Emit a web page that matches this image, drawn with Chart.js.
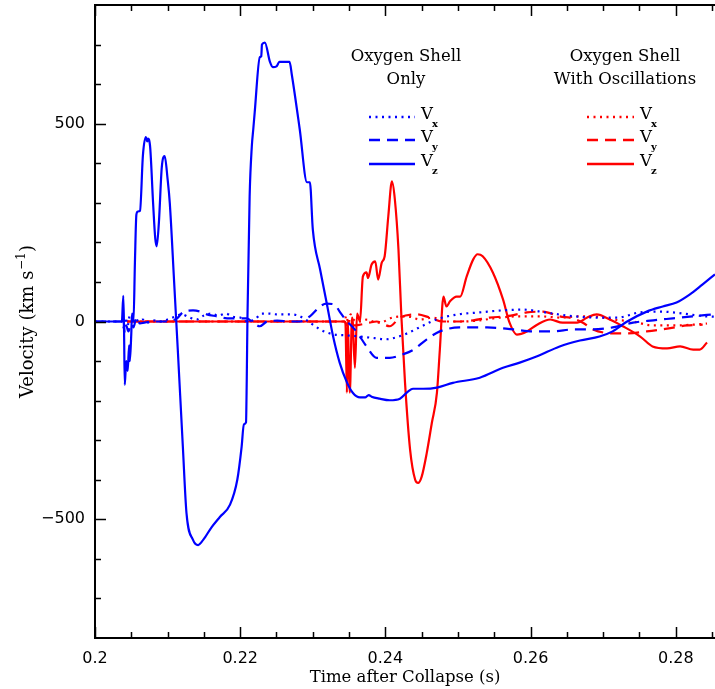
<!DOCTYPE html>
<html>
<head>
<meta charset="utf-8">
<script src="https://cdn.jsdelivr.net/npm/chart.js@4.4.0/dist/chart.umd.min.js"></script>
<style>
  html, body { margin: 0; padding: 0; background: #fff; }
  #c { display: block; }
</style>
</head>
<body>
<canvas id="c" width="715" height="689"></canvas>
<script>
// time after collapse (s) and velocity (km/s)

// oxygen shell only (blue)
const tOnlyVx = [0.2000,0.2037,0.2039,0.2042,0.2045,0.2048,0.2052,0.2056,0.2060,0.2066,0.2072,0.2080,0.2090,0.2100,0.2110,0.2120,0.2130,0.2140,0.2150,0.2160,0.2170,0.2180,0.2190,0.2200,0.2210,0.2220,0.2230,0.2240,0.2250,0.2260,0.2270,0.2280,0.2290,0.2300,0.2310,0.2320,0.2330,0.2345,0.2365,0.2385,0.2400,0.2415,0.2430,0.2450,0.2470,0.2500,0.2530,0.2560,0.2590,0.2620,0.2650,0.2690,0.2720,0.2750,0.2780,0.2810,0.2840,0.2854];
const vOnlyVx = [0,0,-15,10,-10,15,5,8,0,5,-3,3,0,5,12,18,10,5,15,20,15,20,12,10,0,5,20,20,18,18,18,15,5,-8,-20,-28,-33,-35,-38,-42,-45,-40,-30,-12,5,18,23,28,30,23,15,10,10,23,25,20,13,12];

const tOnlyVy = [0.2000,0.2037,0.2039,0.2041,0.2043,0.2046,0.2050,0.2053,0.2057,0.2062,0.2068,0.2080,0.2095,0.2107,0.2113,0.2121,0.2135,0.2145,0.2154,0.2168,0.2182,0.2199,0.2209,0.2218,0.2227,0.2237,0.2251,0.2269,0.2282,0.2296,0.2310,0.2319,0.2330,0.2337,0.2345,0.2360,0.2374,0.2388,0.2406,0.2424,0.2438,0.2457,0.2475,0.2502,0.2540,0.2576,0.2604,0.2631,0.2659,0.2686,0.2713,0.2741,0.2769,0.2796,0.2823,0.2851];
const vOnlyVy = [0,0,10,-30,-10,-25,-5,-15,10,-5,-3,0,0,3,8,23,28,25,18,13,8,8,8,-3,-12,0,2,0,0,13,38,45,43,25,5,-25,-63,-92,-92,-83,-72,-45,-25,-15,-15,-20,-25,-25,-20,-20,-15,-3,3,8,13,18];

const tOnlyVz = [0.2000,0.2037,0.2039,0.2040,0.2041,0.2043,0.2045,0.2047,0.2048,0.2050,0.2051,0.2053,0.2055,0.2057,0.2059,0.2062,0.2066,0.2070,0.2072,0.2073,0.2076,0.2080,0.2083,0.2085,0.2088,0.2092,0.2096,0.2100,0.2103,0.2109,0.2114,0.2121,0.2126,0.2135,0.2142,0.2149,0.2161,0.2172,0.2186,0.2196,0.2202,0.2205,0.2208,0.2209,0.2210,0.2213,0.2216,0.2218,0.2220,0.2227,0.2229,0.2230,0.2234,0.2241,0.2245,0.2250,0.2254,0.2268,0.2271,0.2282,0.2292,0.2296,0.2300,0.2310,0.2319,0.2328,0.2337,0.2347,0.2355,0.2365,0.2372,0.2377,0.2381,0.2392,0.2406,0.2420,0.2431,0.2438,0.2452,0.2471,0.2493,0.2530,0.2562,0.2585,0.2609,0.2640,0.2668,0.2695,0.2713,0.2733,0.2760,0.2782,0.2801,0.2819,0.2837,0.2854];
const vOnlyVz = [0,0,65,-20,-160,-100,-125,-60,-100,-30,20,0,150,270,278,280,420,466,455,462,440,300,210,190,250,390,418,360,300,100,-70,-316,-484,-552,-565,-552,-519,-494,-463,-400,-316,-260,-255,-150,10,316,443,486,529,668,670,700,705,656,643,645,656,656,625,486,352,352,233,132,48,-38,-104,-154,-180,-192,-192,-186,-190,-195,-199,-195,-177,-170,-170,-167,-155,-142,-117,-104,-88,-63,-48,-38,-25,0,25,38,48,68,94,119];

// oxygen shell with oscillations (red)
const tOscVx = [0.2044,0.2344,0.2346,0.2349,0.2352,0.2356,0.2365,0.2375,0.2383,0.2392,0.2410,0.2430,0.2448,0.2465,0.2485,0.2507,0.2530,0.2558,0.2585,0.2613,0.2640,0.2668,0.2686,0.2713,0.2741,0.2768,0.2796,0.2824,0.2843];
const vOscVx = [0,0,15,-5,18,5,0,5,0,-3,10,13,5,10,0,0,3,10,13,13,10,13,13,5,0,-10,-10,-8,-5];

const tOscVy = [0.2044,0.2344,0.2347,0.2351,0.2356,0.2365,0.2378,0.2388,0.2406,0.2420,0.2443,0.2461,0.2479,0.2499,0.2521,0.2544,0.2567,0.2595,0.2617,0.2640,0.2658,0.2672,0.2686,0.2713,0.2733,0.2760,0.2788,0.2815,0.2837];
const vOscVy = [0,0,-10,5,-10,-8,-3,0,-12,10,18,10,0,0,3,10,13,23,25,13,8,-3,-20,-30,-30,-25,-18,-10,-8];

const tOscVz = [0.2044,0.2344,0.2345,0.2347,0.2348,0.2351,0.2354,0.2355,0.2358,0.2361,0.2365,0.2369,0.2374,0.2376,0.2381,0.2386,0.2390,0.2395,0.2399,0.2404,0.2409,0.2413,0.2418,0.2422,0.2427,0.2434,0.2441,0.2445,0.2450,0.2457,0.2464,0.2471,0.2475,0.2480,0.2484,0.2489,0.2498,0.2503,0.2512,0.2521,0.2527,0.2534,0.2548,0.2562,0.2571,0.2581,0.2595,0.2609,0.2627,0.2644,0.2664,0.2678,0.2691,0.2709,0.2727,0.2751,0.2768,0.2788,0.2806,0.2824,0.2833,0.2843];
const vOscVz = [0,0,-5,-180,0,-180,10,0,-117,20,0,114,124,110,144,152,106,149,165,266,354,309,182,13,-154,-324,-400,-408,-392,-332,-256,-180,-71,63,38,51,63,63,114,157,170,165,124,56,-3,-33,-25,-8,5,-3,-3,10,18,5,-12,-38,-63,-68,-63,-71,-71,-53];

const xTickValues = [0.2, 0.22, 0.24, 0.26, 0.28];
const yTickValues = [-500, 0, 500];
const groupTitles = [['Oxygen Shell', 'Only'], ['Oxygen Shell', 'With Oscillations']];
const components = ['x', 'y', 'z'];
const xTitle = 'Time after Collapse (s)';
const yTitle = 'Velocity (km s';

const BLUE = '#0000ff', RED = '#ff0000';
const DOT = [2, 4.5], DASH = [11, 7];
const SERIF = '"DejaVu Serif", serif';

function pts(t, v) { return t.map((x, i) => ({ x: x, y: v[i] })); }

function line(label, t, v, color, dash) {
  return {
    label: label,
    data: pts(t, v),
    borderColor: color,
    borderWidth: 2.2,
    borderDash: dash,
    pointRadius: 0,
    fill: false,
    cubicInterpolationMode: 'monotone'
  };
}

// frame, inward ticks, axis titles and the two-column key
const decorations = {
  id: 'decorations',
  afterDatasetsDraw(chart) {
    const { ctx, chartArea: a } = chart;
    const x = chart.scales.x, y = chart.scales.y;
    ctx.save();
    ctx.strokeStyle = '#000';
    ctx.lineWidth = 2;
    ctx.beginPath();
    ctx.moveTo(a.right + 5, a.top);
    ctx.lineTo(a.left, a.top);
    ctx.lineTo(a.left, a.bottom);
    ctx.lineTo(a.right + 5, a.bottom);
    ctx.stroke();

    ctx.lineWidth = 1.5;
    ctx.beginPath();
    for (let k = 0; ; k++) {
      const v = 0.2 + k * 0.005;
      if (v > x.max) break;
      const px = Math.round(x.getPixelForValue(v)) + 0.5;
      const len = k % 4 === 0 ? 11 : 6;
      ctx.moveTo(px, a.bottom); ctx.lineTo(px, a.bottom - len);
      ctx.moveTo(px, a.top); ctx.lineTo(px, a.top + len);
    }
    for (let v = -700; v <= 700; v += 100) {
      const py = Math.round(y.getPixelForValue(v)) + 0.5;
      const len = v % 500 === 0 ? 11 : 6;
      ctx.moveTo(a.left, py); ctx.lineTo(a.left + len, py);
    }
    ctx.stroke();

    ctx.fillStyle = '#000';
    ctx.textBaseline = 'middle';
    ctx.textAlign = 'center';
    ctx.font = '16.5px ' + SERIF;
    ctx.fillText(xTitle, (a.left + 715) / 2, 678);

    // rotated y title with superscript
    ctx.save();
    ctx.translate(28, (a.top + a.bottom) / 2);
    ctx.rotate(-Math.PI / 2);
    ctx.textAlign = 'left';
    ctx.font = '18px ' + SERIF;
    const w1 = ctx.measureText(yTitle).width;
    ctx.font = '12px ' + SERIF;
    const w2 = ctx.measureText('\u22121').width;
    ctx.font = '18px ' + SERIF;
    const w3 = ctx.measureText(')').width;
    let sx = -(w1 + w2 + w3 + 1) / 2;
    ctx.fillText(yTitle, sx, 0);
    ctx.font = '12px ' + SERIF;
    ctx.fillText('\u22121', sx + w1 + 0.5, -6);
    ctx.font = '18px ' + SERIF;
    ctx.fillText(')', sx + w1 + w2 + 1, 0);
    ctx.restore();

    // key
    const cols = [{ cx: 406, x0: 369, x1: 415 }, { cx: 625, x0: 587, x1: 634 }];
    const rows = [117, 140, 164];
    const sets = chart.data.datasets;
    cols.forEach((c, gi) => {
      ctx.textAlign = 'center';
      ctx.font = '16.5px ' + SERIF;
      ctx.fillText(groupTitles[gi][0], c.cx, 57);
      ctx.fillText(groupTitles[gi][1], c.cx, 80);
      components.forEach((comp, ci) => {
        const ds = sets[gi * 3 + ci];
        ctx.strokeStyle = ds.borderColor;
        ctx.lineWidth = 2.5;
        ctx.setLineDash(ds.borderDash || []);
        ctx.beginPath();
        ctx.moveTo(c.x0, rows[ci]);
        ctx.lineTo(c.x1, rows[ci]);
        ctx.stroke();
        ctx.setLineDash([]);
        ctx.textAlign = 'left';
        ctx.font = '16.5px ' + SERIF;
        ctx.fillText('V', c.x1 + 6, rows[ci] - 2);
        const vw = ctx.measureText('V').width;
        ctx.font = 'bold 10px ' + SERIF;
        ctx.fillText(comp, c.x1 + 6 + vw - 1, rows[ci] + 7);
      });
    });
    ctx.restore();
  }
};

new Chart(document.getElementById('c'), {
  type: 'line',
  data: {
    datasets: [
      line('Only Vx', tOnlyVx, vOnlyVx, BLUE, DOT),
      line('Only Vy', tOnlyVy, vOnlyVy, BLUE, DASH),
      line('Only Vz', tOnlyVz, vOnlyVz, BLUE, []),
      line('Osc Vx', tOscVx, vOscVx, RED, DOT),
      line('Osc Vy', tOscVy, vOscVy, RED, DASH),
      line('Osc Vz', tOscVz, vOscVz, RED, [])
    ]
  },
  options: {
    responsive: false,
    animation: false,
    devicePixelRatio: 1,
    layout: { padding: { top: 5, left: 0, right: 0, bottom: 0 } },
    plugins: { legend: { display: false }, tooltip: { enabled: false } },
    scales: {
      x: {
        type: 'linear',
        min: 0.2,
        max: 0.2854,
        grid: { display: false },
        border: { display: false },
        afterBuildTicks: s => { s.ticks = xTickValues.map(v => ({ value: v })); },
        afterFit: s => { s.height = 51; s.paddingLeft = 0; s.paddingRight = 0; },
        ticks: {
          autoSkip: false,
          maxRotation: 0,
          padding: 3,
          color: '#000',
          font: { family: '"DejaVu Sans", sans-serif', size: 16 },
          callback: v => parseFloat(v.toFixed(3)).toString()
        }
      },
      y: {
        type: 'linear',
        min: -800,
        max: 800,
        grid: { display: false },
        border: { display: false },
        afterBuildTicks: s => { s.ticks = yTickValues.map(v => ({ value: v })); },
        afterFit: s => { s.width = 95; s.paddingTop = 0; s.paddingBottom = 0; },
        ticks: {
          autoSkip: false,
          padding: 2,
          color: '#000',
          font: { family: '"DejaVu Sans", sans-serif', size: 16 },
          callback: v => (v < 0 ? '\u2212' + Math.abs(v) : String(v))
        }
      }
    }
  },
  plugins: [decorations]
});
</script>
</body>
</html>
